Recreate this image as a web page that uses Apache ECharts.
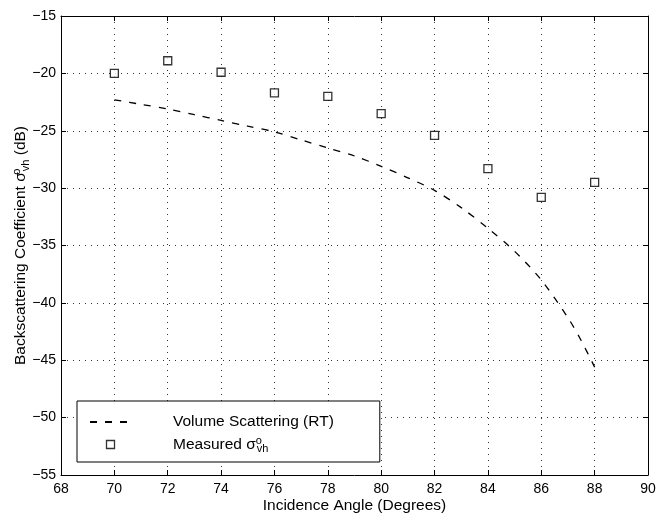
<!DOCTYPE html>
<html>
<head>
<meta charset="utf-8">
<script src="https://cdn.jsdelivr.net/npm/echarts@6/dist/echarts.min.js"></script>
<style>
html,body{margin:0;padding:0;background:#fff;}
#chart{width:657px;height:515px;}
</style>
</head>
<body>
<div id="chart"></div>
<script>
// ---- data ----
var modelAngles = [70, 71, 72, 73, 74, 75, 76, 77, 78, 79, 80, 81, 82, 83, 84, 85, 86, 87, 87.5, 88];
var modelValues = [-22.3, -22.7, -23.1, -23.6, -24.1, -24.6, -25.1, -25.8, -26.5, -27.2, -28.1, -29.1, -30.2, -31.7, -33.5, -35.5, -38.0, -41.3, -43.3, -45.6];
var measuredAngles = [70, 72, 74, 76, 78, 80, 82, 84, 86, 88];
var measuredValues = [-20.0, -18.9, -19.9, -21.7, -22.0, -23.5, -25.4, -28.3, -30.8, -29.5];
var xTicks = [68, 70, 72, 74, 76, 78, 80, 82, 84, 86, 88, 90];
var yTicks = [-55, -50, -45, -40, -35, -30, -25, -20, -15];
var seriesNames = ['Volume Scattering (RT)', 'Measured'];

var FONT = 'Liberation Sans, Arial, Helvetica, sans-serif';
var NAME_SIZE = 15.5;
var xMin = xTicks[0], xMax = xTicks[xTicks.length - 1], xInt = xTicks[1] - xTicks[0];
var yMin = yTicks[0], yMax = yTicks[yTicks.length - 1], yInt = yTicks[1] - yTicks[0];

function pairs(xs, ys) { return xs.map(function (x, i) { return [x, ys[i]]; }); }
function minus(v) { return String(v).replace('-', '\u2212'); }

var gridLine = { show: true, lineStyle: { color: '#333', width: 1, type: [1, 5] } };
var axisLine = { show: true, lineStyle: { color: '#000', width: 1 } };
var tick = { show: true, inside: true, length: 5, lineStyle: { color: '#000', width: 1 } };
var richSS = {
  sup: { fontSize: 11, fontFamily: FONT, color: '#000', width: 1, verticalAlign: 'top', padding: [0, 0, 8, 0] },
  sub: { fontSize: 11, fontFamily: FONT, color: '#000', verticalAlign: 'bottom', padding: [8, 0, 0, 0] }
};

var chart = echarts.init(document.getElementById('chart'), null, { renderer: 'canvas' });
chart.setOption({
  backgroundColor: '#fff',
  animation: false,
  textStyle: { fontFamily: FONT },
  grid: { left: 61, top: 16, right: 9, bottom: 40, containLabel: false, outerBoundsMode: 'none' },
  legend: {
    orient: 'vertical',
    left: 77, top: 401,
    padding: [13, 46, 8, 12],
    itemGap: 5,
    itemWidth: 41,
    itemHeight: 14,
    backgroundColor: '#fff',
    borderColor: '#000',
    borderWidth: 1,
    borderRadius: 0,
    data: [
      { name: seriesNames[0], itemStyle: { color: 'rgba(0,0,0,0)', borderColor: 'rgba(0,0,0,0)', borderWidth: 0 } },
      { name: seriesNames[1], icon: 'path://M0,0M14,14M3,3L11,3L11,11L3,11Z', itemStyle: { color: '#fff', borderColor: '#000', borderWidth: 1.3 } }
    ],
    formatter: function (name) {
      if (name === seriesNames[1]) return '{gap|}{t|Measured \u03c3}{sup|o}{sub|vh}';
      return '{gap|}{t|' + name + '}';
    },
    textStyle: {
      fontFamily: FONT, color: '#000', fontSize: NAME_SIZE,
      rich: {
        gap: { width: 37 },
        t: { fontSize: NAME_SIZE, fontFamily: FONT, color: '#000', lineHeight: 18, verticalAlign: 'middle' },
        sup: richSS.sup,
        sub: richSS.sub
      }
    }
  },
  xAxis: [{
    type: 'value', min: xMin, max: xMax, interval: xInt, position: 'bottom',
    name: 'Incidence Angle (Degrees)', nameLocation: 'middle', nameGap: 23, nameMoveOverlap: false,
    nameTextStyle: { fontFamily: FONT, fontSize: NAME_SIZE, color: '#000' },
    axisLine: axisLine, axisTick: tick, splitLine: gridLine,
    axisLabel: { fontFamily: FONT, fontSize: 14, color: '#000', margin: 7 }
  }, {
    type: 'value', min: xMin, max: xMax, interval: xInt, position: 'top',
    axisLine: axisLine, axisTick: tick, splitLine: { show: false }, axisLabel: { show: false }
  }],
  yAxis: [{
    type: 'value', min: yMin, max: yMax, interval: yInt, position: 'left',
    name: '{t|Backscattering Coefficient \u03c3}{sup|o}{sub|vh}{t| (dB)}',
    nameLocation: 'middle', nameGap: 30, nameRotate: 90, nameMoveOverlap: false,
    nameTextStyle: {
      fontFamily: FONT, fontSize: NAME_SIZE, color: '#000',
      rich: {
        t: { fontSize: NAME_SIZE, fontFamily: FONT, color: '#000', lineHeight: 20, verticalAlign: 'middle' },
        sup: richSS.sup,
        sub: richSS.sub
      }
    },
    axisLine: axisLine, axisTick: tick, splitLine: gridLine,
    axisLabel: { fontFamily: FONT, fontSize: 14, color: '#000', margin: 5, formatter: minus }
  }, {
    type: 'value', min: yMin, max: yMax, interval: yInt, position: 'right',
    axisLine: axisLine, axisTick: tick, splitLine: { show: false }, axisLabel: { show: false }
  }],
  series: [{
    name: seriesNames[0],
    type: 'line',
    xAxisIndex: 0, yAxisIndex: 0,
    data: pairs(modelAngles, modelValues),
    smooth: 0.3,
    symbol: 'none',
    lineStyle: { color: '#000', width: 1.3, type: [7, 8] },
    itemStyle: { color: '#000' },
    z: 3
  }, {
    name: seriesNames[1],
    type: 'scatter',
    xAxisIndex: 0, yAxisIndex: 0,
    data: pairs(measuredAngles, measuredValues),
    symbol: 'rect',
    symbolSize: 8,
    itemStyle: { color: '#fff', borderColor: '#000', borderWidth: 1.3 },
    z: 4
  }]
});
</script>
</body>
</html>
